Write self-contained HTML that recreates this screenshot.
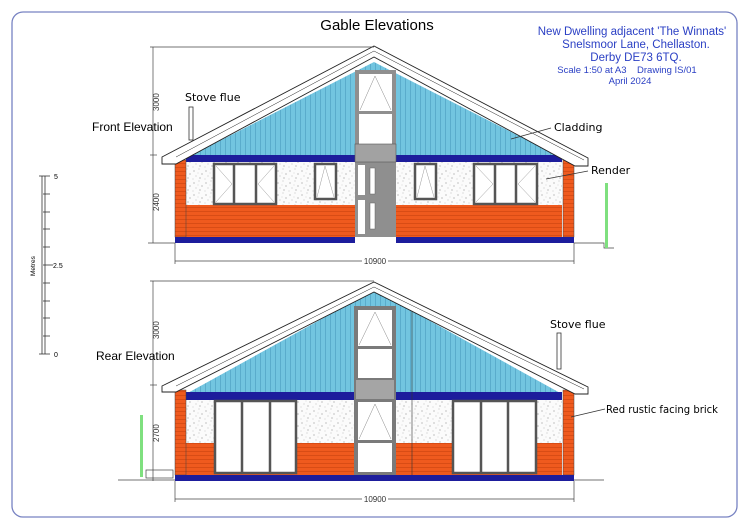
<!DOCTYPE html>
<html><head><meta charset="utf-8"><style>
html,body{margin:0;padding:0;background:#fff;}
svg{display:block;font-family:"Liberation Sans",sans-serif;}
.hand{font-family:"DejaVu Sans",sans-serif;}
</style></head><body>
<svg width="750" height="530" viewBox="0 0 750 530" xmlns="http://www.w3.org/2000/svg">
<defs>
<pattern id="clad" width="5" height="10" patternUnits="userSpaceOnUse"><rect width="5" height="10" fill="#72c5e0"/><line x1="0.5" y1="0" x2="0.5" y2="10" stroke="#4a9cc0" stroke-width="0.6"/></pattern>
<pattern id="brick" width="10" height="4" patternUnits="userSpaceOnUse"><rect width="10" height="4" fill="#ef5a1e"/><line x1="0" y1="3.5" x2="10" y2="3.5" stroke="#c9420f" stroke-width="0.6"/></pattern>
<pattern id="render" width="12" height="12" patternUnits="userSpaceOnUse"><rect width="12" height="12" fill="#fbfbfb"/><circle cx="2" cy="3" r="0.6" fill="#999"/><circle cx="7" cy="1" r="0.5" fill="#aaa"/><circle cx="10" cy="6" r="0.6" fill="#999"/><circle cx="4" cy="8" r="0.5" fill="#aaa"/><circle cx="8" cy="10" r="0.6" fill="#999"/><circle cx="1" cy="11" r="0.5" fill="#bbb"/><circle cx="6" cy="5" r="0.4" fill="#aaa"/></pattern>
</defs>
<rect x="12" y="12" width="725" height="505" rx="11" fill="none" stroke="#7782c2" stroke-width="1.3"/>
<text x="377" y="30" font-size="15" text-anchor="middle">Gable Elevations</text>
<g fill="#2a3fc4" text-anchor="middle">
<text x="632" y="35" font-size="11.5">New Dwelling adjacent 'The Winnats'</text>
<text x="636" y="48" font-size="11.5">Snelsmoor Lane, Chellaston.</text>
<text x="636" y="61" font-size="11.5">Derby DE73 6TQ.</text>
<text x="627" y="73" font-size="9.5">Scale 1:50 at A3 &#160;&#160;&#160;Drawing IS/01</text>
<text x="630" y="84" font-size="9.5">April 2024</text>
</g>
<g stroke="#333" stroke-width="0.8">
<line x1="42" y1="176" x2="42" y2="354"/><line x1="45" y1="176" x2="45" y2="354"/>
<line x1="39" y1="176" x2="50" y2="176"/><line x1="39" y1="354" x2="50" y2="354"/>
<line x1="43" y1="265" x2="53" y2="265"/>
<line x1="43" y1="194" x2="50" y2="194"/><line x1="43" y1="212" x2="50" y2="212"/><line x1="43" y1="229" x2="50" y2="229"/><line x1="43" y1="247" x2="50" y2="247"/><line x1="43" y1="283" x2="50" y2="283"/><line x1="43" y1="301" x2="50" y2="301"/><line x1="43" y1="318" x2="50" y2="318"/><line x1="43" y1="336" x2="50" y2="336"/>
</g>
<text x="54" y="179" font-size="7">5</text><text x="53" y="268" font-size="7">2.5</text><text x="54" y="357" font-size="7">0</text>
<text x="0" y="0" font-size="6.5" transform="translate(35,276) rotate(-90)">Metres</text>

<g>
<polygon points="186,158 374,62 562,158" fill="url(#clad)"/>
<rect x="186" y="155" width="376" height="7" fill="#1d1d9c"/>
<rect x="186" y="162" width="376" height="43" fill="url(#render)"/>
<rect x="186" y="205" width="376" height="32" fill="url(#brick)"/>
<rect x="175" y="160" width="11" height="77" fill="url(#brick)" stroke="#444" stroke-width="0.5"/>
<rect x="563" y="160" width="11" height="77" fill="url(#brick)" stroke="#444" stroke-width="0.5"/>
<rect x="175" y="237" width="399" height="6" fill="#1d1d9c"/>
<rect x="355" y="70" width="41" height="167" fill="#8f8f8f"/>
<rect x="359" y="74" width="33" height="37" fill="#fff"/>
<polyline points="360,110 375,76 391,110" fill="none" stroke="#888" stroke-width="0.5"/>
<rect x="359" y="114" width="33" height="30" fill="#fff"/>
<rect x="355" y="144" width="41" height="18" fill="#a2a2a2" stroke="#555" stroke-width="0.6"/>
<rect x="358" y="165" width="7" height="30" fill="#fff"/><rect x="358" y="200" width="7" height="34" fill="#fff"/>
<rect x="370" y="168" width="5" height="26" fill="#fff" stroke="#666" stroke-width="0.5"/><rect x="370" y="203" width="5" height="26" fill="#fff" stroke="#666" stroke-width="0.5"/>
<rect x="355" y="237" width="41" height="6" fill="#fff"/>
<g fill="#fff" stroke="#555" stroke-width="2.5">
<rect x="214" y="164" width="62" height="40"/><line x1="234" y1="164" x2="234" y2="204"/><line x1="256" y1="164" x2="256" y2="204"/>
<rect x="315" y="164" width="21" height="35"/>
<rect x="415" y="164" width="21" height="35"/>
<rect x="474" y="164" width="63" height="40"/><line x1="495" y1="164" x2="495" y2="204"/><line x1="516" y1="164" x2="516" y2="204"/>
</g>
<g fill="none" stroke="#999" stroke-width="0.5">
<polyline points="216,166 232,184 216,202"/><polyline points="274,166 258,184 274,202"/>
<polyline points="317,197 325,166 334,197"/><polyline points="417,197 425,166 434,197"/>
<polyline points="476,166 493,184 476,202"/><polyline points="535,166 518,184 535,202"/>
</g>
<polygon points="162,157 374,46 588,158 588,166 575,166 374,57 176,164 162,164" fill="#fff" stroke="#222" stroke-width="0.9"/>
<line x1="176" y1="157" x2="374" y2="51" stroke="#222" stroke-width="0.5"/>
<line x1="374" y1="51" x2="584" y2="160" stroke="#222" stroke-width="0.5"/>
<rect x="189" y="107" width="4" height="33" fill="#fff" stroke="#333" stroke-width="0.8"/>
</g>
<g stroke="#444" stroke-width="0.7" fill="none">
<line x1="153" y1="47" x2="153" y2="243"/><line x1="150" y1="155" x2="157" y2="155"/><line x1="150" y1="47" x2="374" y2="47"/>
<line x1="148" y1="243" x2="175" y2="243"/>
<line x1="175" y1="243" x2="175" y2="264"/><line x1="574" y1="243" x2="574" y2="264"/>
<line x1="175" y1="261" x2="574" y2="261"/>
<polyline points="574,243 604,243 604,248 614,248"/>
</g>
<rect x="605" y="183" width="3" height="65" fill="#7fe07f"/>
<rect x="362" y="256" width="26" height="9" fill="#fff"/>
<text x="375" y="264" font-size="8" text-anchor="middle" fill="#333">10900</text>
<text font-size="8" fill="#333" transform="translate(159,111) rotate(-90)">3000</text>
<text font-size="8" fill="#333" transform="translate(159,211) rotate(-90)">2400</text>
<text x="92" y="131" font-size="12">Front Elevation</text>
<text x="185" y="101" font-size="11" class="hand">Stove flue</text>
<text x="554" y="131" font-size="11" class="hand">Cladding</text>
<line x1="511" y1="139" x2="551" y2="128" stroke="#333" stroke-width="0.7"/>
<text x="591" y="174" font-size="11" class="hand">Render</text>
<line x1="546" y1="179" x2="588" y2="171" stroke="#333" stroke-width="0.7"/>

<g>
<polygon points="186,394 374,290 562,394" fill="url(#clad)"/>
<rect x="186" y="392" width="376" height="8" fill="#1d1d9c"/>
<rect x="186" y="400" width="376" height="43" fill="url(#render)"/>
<rect x="186" y="443" width="376" height="32" fill="url(#brick)"/>
<rect x="175" y="390" width="11" height="85" fill="url(#brick)" stroke="#444" stroke-width="0.5"/>
<rect x="563" y="390" width="11" height="85" fill="url(#brick)" stroke="#444" stroke-width="0.5"/>
<rect x="175" y="475" width="399" height="6" fill="#1d1d9c"/>
<line x1="412" y1="300" x2="412" y2="475" stroke="#333" stroke-width="0.6"/>
<rect x="354" y="306" width="42" height="169" fill="#7a7a7a"/>
<rect x="358" y="310" width="34" height="36" fill="#fff"/>
<polyline points="359,345 375,312 391,345" fill="none" stroke="#888" stroke-width="0.5"/>
<rect x="358" y="349" width="34" height="29" fill="#fff"/>
<rect x="356" y="380" width="38" height="19" fill="#a5a5a5"/>
<rect x="358" y="402" width="34" height="38" fill="#fff"/>
<polyline points="359,439 375,404 391,439" fill="none" stroke="#888" stroke-width="0.5"/>
<rect x="358" y="443" width="34" height="29" fill="#fff"/>
<g fill="#fff" stroke="#555" stroke-width="2.5">
<rect x="215" y="401" width="81" height="72"/><line x1="242" y1="401" x2="242" y2="473"/><line x1="270" y1="401" x2="270" y2="473"/>
<rect x="453" y="401" width="83" height="72"/><line x1="481" y1="401" x2="481" y2="473"/><line x1="508" y1="401" x2="508" y2="473"/>
</g>
<polygon points="162,386 374,282 588,387 588,394 575,394 374,292 176,392 162,392" fill="#fff" stroke="#222" stroke-width="0.9"/>
<line x1="176" y1="386" x2="374" y2="287" stroke="#222" stroke-width="0.5"/>
<line x1="374" y1="287" x2="584" y2="389" stroke="#222" stroke-width="0.5"/>
<rect x="557" y="333" width="4" height="36" fill="#fff" stroke="#333" stroke-width="0.8"/>
</g>
<g stroke="#444" stroke-width="0.7" fill="none">
<line x1="153" y1="281" x2="153" y2="481"/><line x1="150" y1="385" x2="157" y2="385"/><line x1="150" y1="281" x2="374" y2="281"/>
<line x1="118" y1="480" x2="175" y2="480"/>
<rect x="146" y="470" width="27" height="8"/>
<line x1="175" y1="481" x2="175" y2="502"/><line x1="574" y1="481" x2="574" y2="502"/>
<line x1="175" y1="499" x2="574" y2="499"/>
<line x1="574" y1="480" x2="604" y2="480"/>
</g>
<rect x="140" y="415" width="3" height="62" fill="#7fe07f"/>
<rect x="362" y="494" width="26" height="9" fill="#fff"/>
<text x="375" y="502" font-size="8" text-anchor="middle" fill="#333">10900</text>
<text font-size="8" fill="#333" transform="translate(159,339) rotate(-90)">3000</text>
<text font-size="8" fill="#333" transform="translate(159,442) rotate(-90)">2700</text>
<text x="96" y="360" font-size="12">Rear Elevation</text>
<text x="550" y="328" font-size="11" class="hand">Stove flue</text>
<text x="606" y="413" font-size="10.3" class="hand" textLength="112" lengthAdjust="spacingAndGlyphs">Red rustic facing brick</text>
<line x1="571" y1="417" x2="605" y2="409" stroke="#333" stroke-width="0.7"/>
</svg>
</body></html>
